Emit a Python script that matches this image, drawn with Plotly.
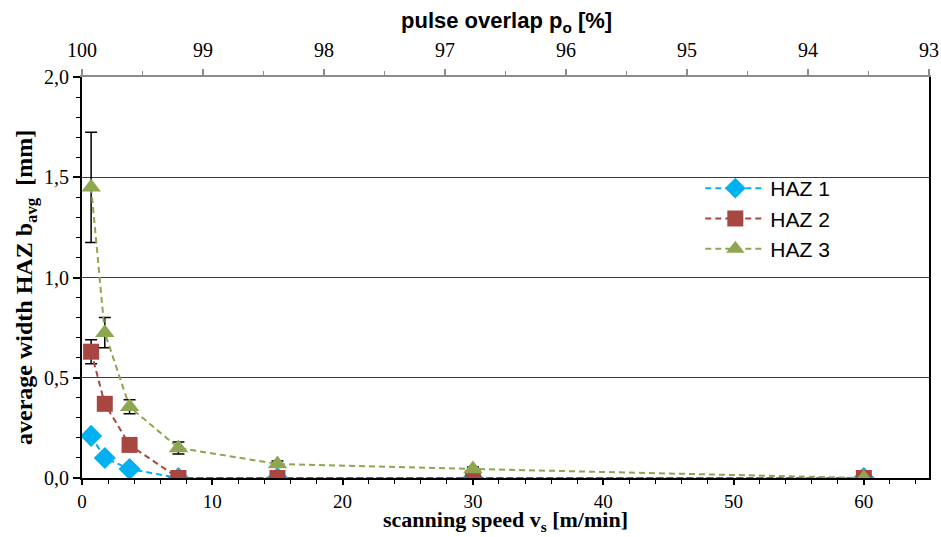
import plotly.graph_objects as go

# ---- data ----
speed = [0.7, 1.75, 3.65, 7.4, 15, 30, 60]
haz1 = [0.21, 0.10, 0.045, 0.0, 0.0, 0.0, 0.0]
haz1_err = [0.02, 0.01, 0.01, 0.0, 0.0, 0.0, 0.0]
haz2 = [0.63, 0.37, 0.165, 0.0, 0.0, 0.0, 0.0]
haz2_err = [0.06, 0.01, 0.01, 0.0, 0.0, 0.0, 0.0]
haz3 = [1.45, 0.725, 0.355, 0.15, 0.07, 0.045, 0.0]
haz3_err = [0.275, 0.075, 0.035, 0.03, 0.015, 0.01, 0.0]
overlap_ticks = [100, 99, 98, 97, 96, 95, 94, 93]

series = [
    ("HAZ 1", haz1, haz1_err, "#00B0F0", "diamond", 17),
    ("HAZ 2", haz2, haz2_err, "#A84741", "square", 16),
    ("HAZ 3", haz3, haz3_err, "#8DA64F", "triangle-up", 17),
]

fig = go.Figure()
for name, ys, errs, col, sym, sz in series:
    fig.add_trace(go.Scatter(
        x=speed, y=ys, name=name, mode="lines+markers",
        line=dict(color=col, width=2, dash="6px,4px"),
        marker=dict(symbol=sym, size=sz, color=col, line=dict(width=0)),
        error_y=dict(type="data", array=errs, visible=True, color="black",
                     thickness=1.5, width=6),
    ))

# invisible trace to carry the top axis (pulse overlap)
fig.add_trace(go.Scatter(
    x=overlap_ticks, y=[None] * len(overlap_ticks), xaxis="x2", yaxis="y",
    mode="markers", showlegend=False, hoverinfo="skip",
    marker=dict(opacity=0)))

serif = "Liberation Serif, Times New Roman, serif"
sans = "Liberation Sans, Arial, sans-serif"

W, H = 941, 537
L, R, T, B = 82, 12, 77, 59

fig.update_layout(
    width=W, height=H,
    margin=dict(l=L, r=R, t=T, b=B),
    paper_bgcolor="white", plot_bgcolor="white",
    separators=",.",
    showlegend=True,
    legend=dict(x=0.73, y=0.773, xanchor="left", yanchor="top",
                font=dict(family=sans, size=21, color="black"),
                bgcolor="rgba(0,0,0,0)", tracegroupgap=0, itemwidth=60),
    xaxis=dict(
        range=[0, 65], dtick=10, tick0=0, automargin=False,
        showgrid=False, zeroline=False,
        showline=True, linecolor="black", linewidth=2,
        ticks="outside", ticklen=5, tickwidth=1.5, tickcolor="black",
        minor=dict(dtick=2, ticks="outside", ticklen=4, tickcolor="black", tickwidth=1),
        tickfont=dict(family=serif, size=19, color="black"),
    ),
    xaxis2=dict(
        overlaying="x", side="top", anchor="y", automargin=False,
        range=[100, 93], tickvals=overlap_ticks,
        showgrid=False, zeroline=False,
        showline=True, linecolor="#8C8C8C", linewidth=2,
        ticks="outside", ticklen=6, tickwidth=1.5, tickcolor="#8C8C8C",
        ticklabelstandoff=4,
        minor=dict(dtick=0.5, ticks="outside", ticklen=4, tickcolor="#8C8C8C", tickwidth=1),
        tickfont=dict(family=serif, size=20, color="black"),
    ),
    yaxis=dict(
        range=[0, 2], dtick=0.5, tick0=0, tickformat=".1f", automargin=False,
        showgrid=True, gridcolor="#3C3C3C", gridwidth=1,
        zeroline=False,
        showline=True, linecolor="black", linewidth=2, mirror=True,
        ticks="outside", ticklen=7, tickwidth=1.5, tickcolor="black",
        minor=dict(dtick=0.1, ticks="outside", ticklen=4, tickcolor="black",
                   tickwidth=1, showgrid=False),
        tickfont=dict(family=serif, size=20, color="black"),
    ),
)

plot_w = W - L - R
plot_h = H - T - B


def px_x(p):
    return (p - L) / plot_w


def px_y(p):
    return (H - B - p) / plot_h


fig.add_annotation(text="<b>scanning speed v<sub>s</sub> [m/min]</b>",
                   xref="paper", yref="paper", x=px_x(505), y=px_y(537),
                   xanchor="center", yanchor="bottom", showarrow=False,
                   font=dict(family=serif, size=22, color="black"))
fig.add_annotation(text="<b>pulse overlap p<sub>o</sub> [%]</b>",
                   xref="paper", yref="paper", x=px_x(506), y=px_y(22),
                   xanchor="center", yanchor="middle", showarrow=False,
                   font=dict(family=sans, size=22, color="black"))
fig.add_annotation(text="<b>average width HAZ b<sub>avg</sub>  [mm]</b>",
                   xref="paper", yref="paper", x=px_x(26), y=px_y(288),
                   xanchor="center", yanchor="middle", showarrow=False,
                   textangle=-90,
                   font=dict(family=serif, size=24, color="black"))

fig.write_html("out.html")
